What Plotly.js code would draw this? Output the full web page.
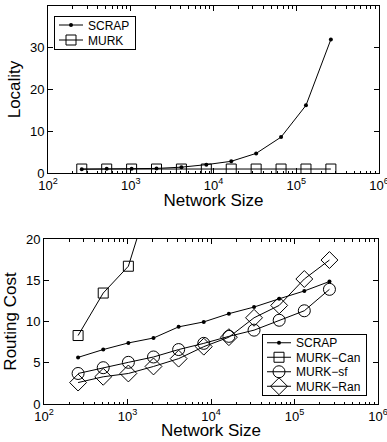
<!DOCTYPE html>
<html>
<head>
<meta charset="utf-8">
<script src="https://cdn.plot.ly/plotly-3.0.1.min.js"></script>
<style>html,body{margin:0;padding:0;background:#fff}#plot{width:387px;height:442px}</style>
</head>
<body>
<div id="plot"></div>
<script>
var networkSize = [256, 512, 1024, 2048, 4096, 8192, 16384, 32768, 65536, 131072, 262144];

// Top panel: Locality
var localitySCRAP = [0.9, 1.0, 1.0, 1.1, 1.4, 2.0, 2.8, 4.7, 8.6, 16.2, 32.0];
var localityMURK  = [0.95, 0.95, 0.95, 0.95, 0.95, 0.95, 0.95, 0.95, 0.95, 0.95, 0.95];

// Bottom panel: Routing Cost
var costSCRAP   = [5.65, 6.6, 7.4, 8.0, 9.35, 9.95, 10.95, 11.75, 12.75, 13.7, 14.85];
var costMURKCan = [8.3, 13.45, 16.7, 26.5];
var costMURKsf  = [3.7, 4.4, 5.05, 5.7, 6.6, 7.35, 8.2, 8.95, 10.15, 11.3, 13.9];
var costMURKRan = [2.6, 3.3, 3.7, 4.55, 5.5, 6.95, 8.1, 10.45, 11.95, 15.15, 17.45];

var xTickVals = [100, 1000, 10000, 100000, 1000000];
var xTickText = ['10<sup>2</sup>', '10<sup>3</sup>', '10<sup>4</sup>', '10<sup>5</sup>', '10<sup>6</sup>'];
var topYTicks = [0, 10, 20, 30, 40];
var botYTicks = [0, 5, 10, 15, 20];

var F = 'Liberation Sans, Arial, Helvetica, sans-serif';
var line = {color: '#000', width: 1};

function xaxis(domain, anchor) {
  return {
    type: 'log', range: [2, 6], domain: domain, anchor: anchor,
    tickvals: xTickVals, ticktext: xTickText, ticklabeloverflow: 'allow',
    ticks: 'inside', ticklen: 5, tickwidth: 1, tickcolor: '#000',
    minor: {ticks: 'inside', ticklen: 2.5, tickcolor: '#000', dtick: 'D1'},
    showline: true, linecolor: '#000', linewidth: 1, mirror: 'allticks',
    showgrid: false, zeroline: false,
    tickfont: {family: F, size: 13, color: '#000'},
    title: {text: 'Network Size', font: {family: F, size: 17, color: '#000'}, standoff: 0}
  };
}
function yaxis(domain, anchor, range, ticks, title) {
  return {
    range: range, domain: domain, anchor: anchor, tickvals: ticks,
    ticks: 'inside', ticklen: 5, tickwidth: 1, tickcolor: '#000',
    showline: true, linecolor: '#000', linewidth: 1, mirror: 'allticks',
    showgrid: false, zeroline: false,
    tickfont: {family: F, size: 13, color: '#000'},
    title: {text: title, font: {family: F, size: 17, color: '#000'}, standoff: 4}
  };
}

var traces = [
  {x: networkSize, y: localitySCRAP, name: 'SCRAP', mode: 'lines+markers', xaxis: 'x', yaxis: 'y', legend: 'legend',
   line: line, marker: {symbol: 'circle', size: 4, color: '#000'}},
  {x: networkSize, y: localityMURK, name: 'MURK', mode: 'lines+markers', xaxis: 'x', yaxis: 'y', legend: 'legend',
   line: line, marker: {symbol: 'square-open', size: 10, color: '#000', line: {width: 1, color: '#000'}}},
  {x: networkSize, y: costSCRAP, name: 'SCRAP', mode: 'lines+markers', xaxis: 'x2', yaxis: 'y2', legend: 'legend2',
   line: line, marker: {symbol: 'circle', size: 4, color: '#000'}},
  {x: networkSize.slice(0, costMURKCan.length), y: costMURKCan, name: 'MURK\u2212Can', mode: 'lines+markers', xaxis: 'x2', yaxis: 'y2', legend: 'legend2',
   line: line, marker: {symbol: 'square-open', size: 10, color: '#000', line: {width: 1, color: '#000'}}},
  {x: networkSize, y: costMURKsf, name: 'MURK\u2212sf', mode: 'lines+markers', xaxis: 'x2', yaxis: 'y2', legend: 'legend2',
   line: line, marker: {symbol: 'circle-open', size: 12, color: '#000', line: {width: 1, color: '#000'}}},
  {x: networkSize, y: costMURKRan, name: 'MURK\u2212Ran', mode: 'lines+markers', xaxis: 'x2', yaxis: 'y2', legend: 'legend2',
   line: line, marker: {symbol: 'diamond-open', size: 13, color: '#000', line: {width: 1, color: '#000'}}}
];

var W = 387, H = 442;
var legendFont = {family: F, size: 12, color: '#000'};
var layout = {
  width: W, height: H,
  margin: {l: 0, r: 0, t: 0, b: 0},
  paper_bgcolor: '#fff', plot_bgcolor: '#fff',
  font: {family: F, color: '#000'},
  xaxis: xaxis([48 / W, 379 / W], 'y'),
  yaxis: yaxis([1 - 173 / H, 1 - 6 / H], 'x', [0, 40], topYTicks, 'Locality'),
  xaxis2: xaxis([44 / W, 378 / W], 'y2'),
  yaxis2: yaxis([1 - 404 / H, 1 - 239 / H], 'x2', [0, 20], botYTicks, 'Routing Cost'),
  legend: {x: 54 / W, y: 1 - 16 / H, xanchor: 'left', yanchor: 'top', bgcolor: '#fff',
    bordercolor: '#000', borderwidth: 1, font: legendFont, tracegroupgap: 0, itemwidth: 30},
  legend2: {x: 262 / W, y: 1 - 334 / H, xanchor: 'left', yanchor: 'top', bgcolor: '#fff',
    bordercolor: '#000', borderwidth: 1, font: legendFont, tracegroupgap: 0, itemwidth: 30},
  showlegend: true
};

// Tighten legend layout to resemble the compact MATLAB-style legend boxes
function compactLegend(gd, cls, step) {
  var g = gd.querySelector('g.' + cls);
  if (!g) return;
  var bg = g.querySelector('rect.bg');
  var items = g.querySelectorAll('g.traces');
  for (var i = 0; i < items.length; i++) {
    var it = items[i];
    var tr = it.getAttribute('transform') || '';
    var m = /translate\(\s*([-\d.e]+)[ ,]+([-\d.e]+)\s*\)/.exec(tr);
    var x = m ? parseFloat(m[1]) : 0;
    it.setAttribute('transform', 'translate(' + x + ',' + (step * (i + 0.5) + 1.5) + ')');
    it.querySelectorAll('path.js-line').forEach(function (p) { p.setAttribute('d', 'M4,0h24'); });
    it.querySelectorAll('g.legendpoints path').forEach(function (p) { p.setAttribute('transform', 'translate(16,0)'); });
    it.querySelectorAll('text').forEach(function (t) {
      t.style.transform = 'translate(-7px, 0px)';
    });
  }
  if (bg) {
    bg.setAttribute('height', step * items.length + 3);
    var w = parseFloat(bg.getAttribute('width'));
    if (!isNaN(w)) bg.setAttribute('width', w - 7);
  }
}

Plotly.newPlot('plot', traces, layout, {staticPlot: true, displayModeBar: false}).then(function (gd) {
  compactLegend(gd, 'legend', 15);
  compactLegend(gd, 'legend2', 14.5);
  gd.querySelectorAll('text.xtitle, text.x2title').forEach(function (t) {
    var y = parseFloat(t.getAttribute('y'));
    if (!isNaN(y)) t.setAttribute('y', y - 2);
  });
});
</script>
</body>
</html>
